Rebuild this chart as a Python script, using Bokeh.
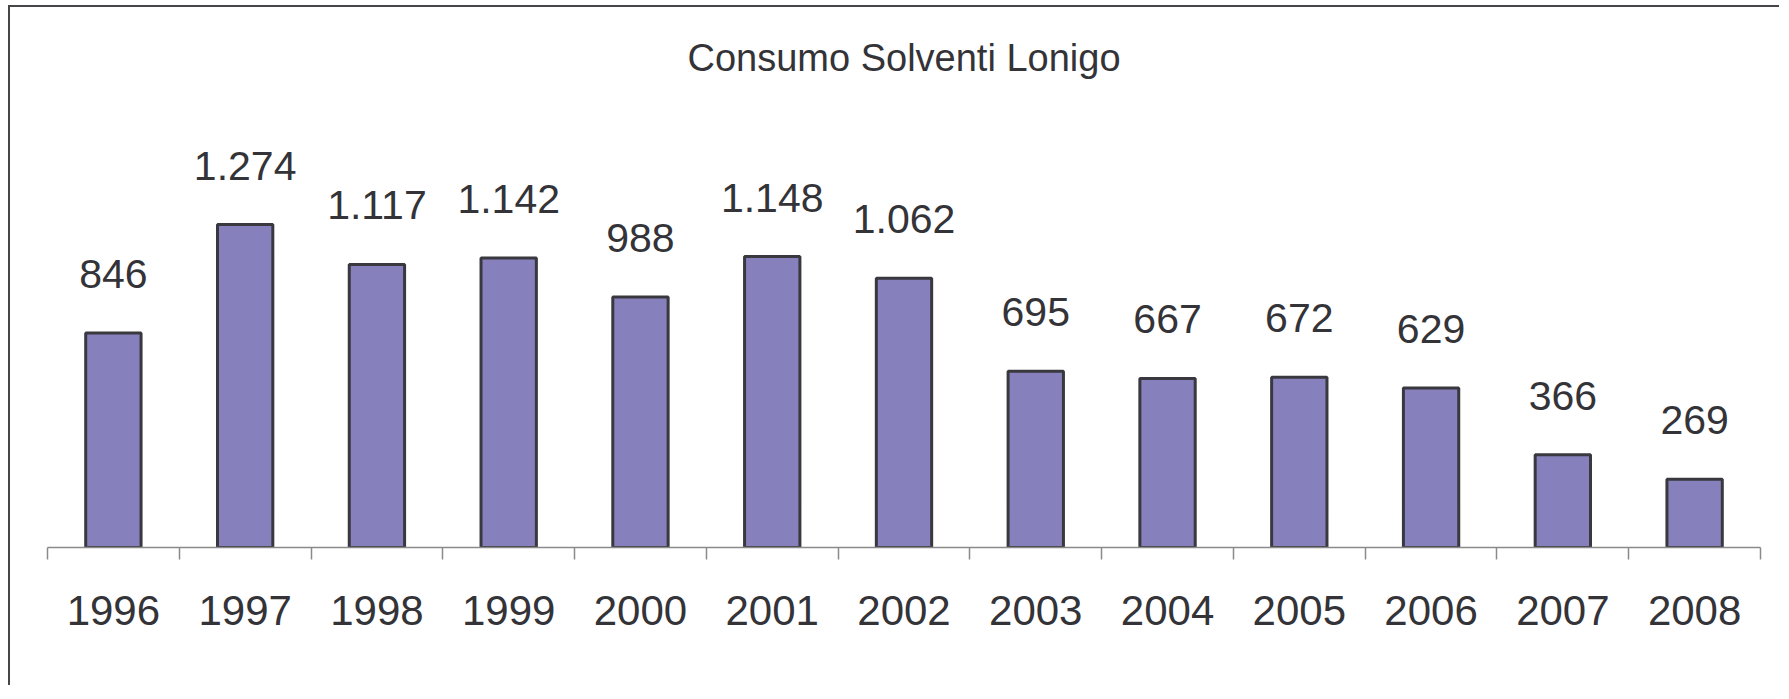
from bokeh.plotting import figure
from bokeh.models import Range1d, FixedTicker, LinearAxis, Label, ColumnDataSource
from bokeh.core.properties import value
from bokeh.embed import file_html
from bokeh.resources import INLINE

title_text = "Consumo Solventi Lonigo"
years = ["1996", "1997", "1998", "1999", "2000", "2001", "2002",
         "2003", "2004", "2005", "2006", "2007", "2008"]
consumo = [846, 1274, 1117, 1142, 988, 1148, 1062, 695, 667, 672, 629, 366, 269]
labels = ["846", "1.274", "1.117", "1.142", "988", "1.148", "1.062",
          "695", "667", "672", "629", "366", "269"]

FONT = "Liberation Sans"
TXT = "#333338"

xs = list(range(len(years)))
src = ColumnDataSource(dict(x=xs, top=consumo, lab=labels))

p = figure(width=1771, height=680, output_backend="svg", toolbar_location=None,
           x_range=Range1d(-0.5, len(years) - 0.5), y_range=Range1d(0, 2099),
           min_border_left=37, min_border_right=21, min_border_top=8,
           min_border_bottom=140, x_axis_location=None, y_axis_location=None)
p.styles = {"position": "relative", "left": "8px", "top": "5px",
            "border-left": "2px solid #45464a", "border-top": "2px solid #45464a"}
p.outline_line_color = None
p.xgrid.visible = False
p.ygrid.visible = False
p.background_fill_color = "white"
p.border_fill_color = "white"

p.vbar(x="x", top="top", width=0.42, source=src, fill_color="#8681BC",
       line_color="#38383e", line_width=3)

p.text(x="x", y="top", text="lab", source=src, y_offset=-59,
       text_align="center", text_baseline="alphabetic",
       text_font=value(FONT), text_font_size="41px", text_color=TXT)

# axis with ticks at the category boundaries
tick_axis = LinearAxis(ticker=FixedTicker(ticks=[i - 0.5 for i in range(len(years) + 1)]),
                       major_label_text_font_size="0px", major_label_standoff=0,
                       major_tick_in=0, major_tick_out=12, minor_tick_out=0, minor_tick_in=0,
                       axis_line_color="#8a8a8a", axis_line_width=1.5,
                       major_tick_line_color="#8a8a8a", major_tick_line_width=1.5)
tick_axis.major_label_overrides = {i - 0.5: "" for i in range(len(years) + 1)}
p.add_layout(tick_axis, "below")

# axis carrying the year labels at the category centres
lab_axis = LinearAxis(ticker=FixedTicker(ticks=xs),
                      major_label_overrides={i: y for i, y in zip(xs, years)},
                      axis_line_color=None, major_tick_line_color=None,
                      minor_tick_line_color=None, major_tick_out=0, major_tick_in=0,
                      major_label_standoff=36,
                      major_label_text_font=FONT, major_label_text_font_size="42px",
                      major_label_text_color=TXT)
p.add_layout(lab_axis, "below")

p.add_layout(Label(x=6.0, y=1931, text=title_text, text_align="center",
                   text_baseline="middle", text_font=FONT, text_font_size="38px",
                   text_color=TXT))

open("out.html", "w").write(file_html(p, INLINE))
